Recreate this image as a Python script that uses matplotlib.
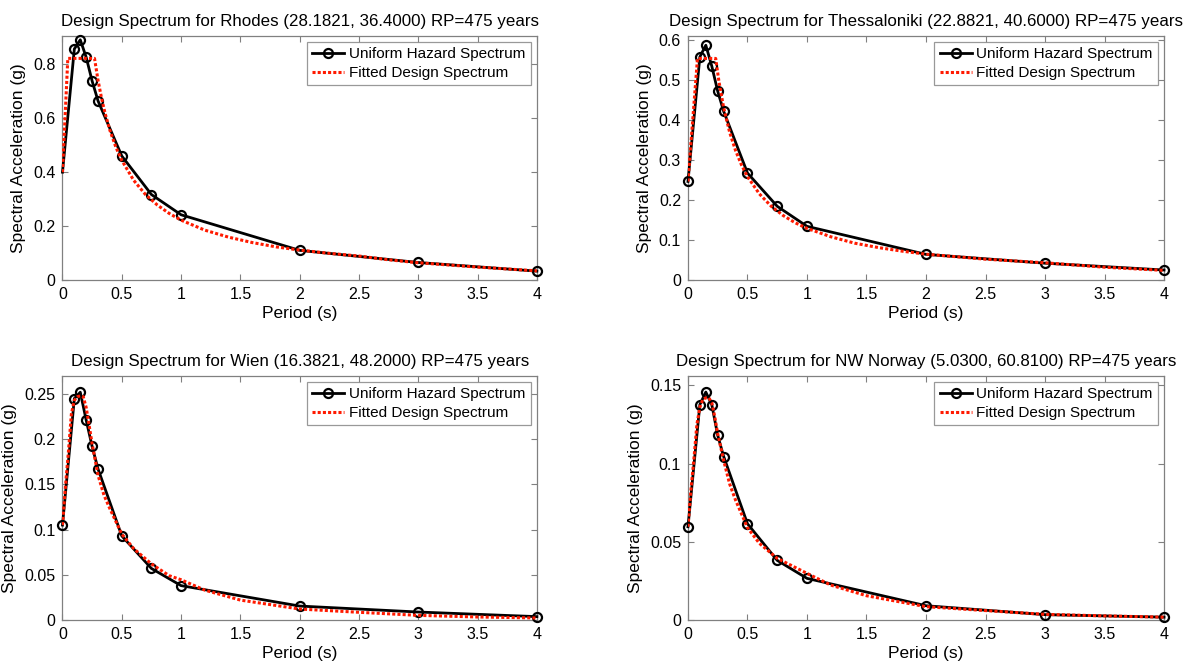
#!/usr/bin/python
# -*- coding: utf-8 -*-

import matplotlib
matplotlib.use('Agg')
from matplotlib import pyplot
from matplotlib import ticker

pyplot.rcParams['font.family'] = ['Liberation Sans', 'DejaVu Sans']

# spectral periods (s) of the uniform hazard spectrum
periods = [0, 0.1, 0.15, 0.2, 0.25, 0.3, 0.5, 0.75, 1, 2, 3, 4]

titles = [
    'Design Spectrum for Rhodes (28.1821, 36.4000) RP=475 years',
    'Design Spectrum for Thessaloniki (22.8821, 40.6000) RP=475 years',
    'Design Spectrum for Wien (16.3821, 48.2000) RP=475 years',
    'Design Spectrum for NW Norway (5.0300, 60.8100) RP=475 years',
]

# uniform hazard spectra (g)
uhs_rhodes = [0.40, 0.857, 0.891, 0.826, 0.738, 0.664, 0.460, 0.317, 0.242,
              0.110, 0.065, 0.033]
uhs_thessaloniki = [0.246, 0.557, 0.586, 0.534, 0.471, 0.421, 0.267, 0.184,
                    0.134, 0.064, 0.042, 0.025]
uhs_wien = [0.105, 0.245, 0.252, 0.221, 0.192, 0.167, 0.093, 0.057, 0.038,
            0.0154, 0.0088, 0.0037]
uhs_norway = [0.0596, 0.1377, 0.1457, 0.1377, 0.118, 0.1045, 0.0615, 0.0381,
              0.0266, 0.0091, 0.0034, 0.0018]

# fitted design spectra (period, g)
fit_rhodes_t = [0, 0.045, 0.27, 0.3, 0.33, 0.36, 0.4, 0.45, 0.5, 0.6, 0.7,
                0.8, 0.9, 1, 1.2, 1.4, 1.6, 1.8, 2, 2.25, 2.5, 2.75, 3, 3.5, 4]
fit_rhodes = [0.40, 0.822, 0.822, 0.740, 0.673, 0.617, 0.555, 0.493, 0.444,
              0.370, 0.317, 0.278, 0.247, 0.222, 0.185, 0.159, 0.139, 0.123,
              0.111, 0.099, 0.089, 0.075, 0.064, 0.048, 0.034]

fit_thessaloniki_t = [0, 0.08, 0.233, 0.26, 0.3, 0.35, 0.4, 0.45, 0.5, 0.6,
                      0.7, 0.8, 0.9, 1, 1.2, 1.4, 1.6, 1.8, 2, 2.5, 3, 3.5, 4]
fit_thessaloniki = [0.246, 0.553, 0.553, 0.496, 0.430, 0.369, 0.323, 0.287,
                    0.258, 0.215, 0.184, 0.161, 0.143, 0.129, 0.108, 0.092,
                    0.081, 0.072, 0.0645, 0.052, 0.043, 0.032, 0.024]

fit_wien_t = [0, 0.025, 0.05, 0.075, 0.1, 0.125, 0.15, 0.175, 0.2, 0.225,
              0.25, 0.3, 0.35, 0.4, 0.5, 0.6, 0.75, 0.9, 1, 1.2, 1.5, 2, 2.5,
              3, 3.5, 4]
fit_wien = [0.105, 0.148, 0.186, 0.228, 0.243, 0.247, 0.248, 0.247, 0.235,
            0.215, 0.195, 0.160, 0.138, 0.123, 0.095, 0.079, 0.062, 0.049,
            0.0445, 0.033, 0.022, 0.0121, 0.0085, 0.0051, 0.0033, 0.0022]

fit_norway_t = [0, 0.025, 0.05, 0.075, 0.1, 0.125, 0.15, 0.175, 0.2, 0.225,
                0.25, 0.3, 0.35, 0.4, 0.5, 0.6, 0.75, 1, 1.2, 1.5, 2, 2.5, 3,
                3.5, 4]
fit_norway = [0.0596, 0.083, 0.103, 0.125, 0.136, 0.141, 0.142, 0.142, 0.139,
              0.130, 0.119, 0.102, 0.087, 0.0766, 0.059, 0.049, 0.0394,
              0.0298, 0.0223, 0.0155, 0.0085, 0.006, 0.0036, 0.0026, 0.0018]

uhs = [uhs_rhodes, uhs_thessaloniki, uhs_wien, uhs_norway]
fit_t = [fit_rhodes_t, fit_thessaloniki_t, fit_wien_t, fit_norway_t]
fit = [fit_rhodes, fit_thessaloniki, fit_wien, fit_norway]
y_top = [0.905, 0.609, 0.270, 0.156]
y_step = [0.2, 0.1, 0.05, 0.05]
first_marker = [1, 0, 0, 0]

# axes boxes in figure fraction: left, bottom, width, height
boxes = [
    (0.0519, 0.5808, 0.3940, 0.3653),
    (0.5714, 0.5808, 0.3954, 0.3653),
    (0.0519, 0.0719, 0.3940, 0.3653),
    (0.5714, 0.0719, 0.3954, 0.3653),
]


def main():
  fig = pyplot.figure(figsize=(12.04, 6.68), dpi=100)
  for i in range(4):
    ax = fig.add_axes(boxes[i])
    ax.plot(periods, uhs[i], color='black', linewidth=2, marker='o',
            markersize=6.5, markerfacecolor='none', markeredgewidth=1.6,
            markevery=slice(first_marker[i], None),
            label='Uniform Hazard Spectrum', clip_on=False, zorder=3)
    ax.plot(fit_t[i], fit[i], color='#ff1a00', linewidth=2.2,
            linestyle=(0, (1, 0.7)), label='Fitted Design Spectrum',
            zorder=4)
    ax.set_xlim(0, 4)
    ax.set_ylim(0, y_top[i])
    ax.xaxis.set_major_locator(ticker.MultipleLocator(0.5))
    ax.yaxis.set_major_locator(ticker.MultipleLocator(y_step[i]))
    ax.xaxis.set_major_formatter(ticker.FormatStrFormatter('%g'))
    ax.yaxis.set_major_formatter(ticker.FormatStrFormatter('%g'))
    ax.tick_params(direction='in', top=True, right=True, length=4,
                   width=0.8, color='#808080', labelsize=11.5, pad=5)
    for spine in ax.spines.values():
      spine.set_color('#808080')
      spine.set_linewidth(0.9)
    ax.set_title(titles[i], fontsize=12.2, pad=7)
    ax.set_xlabel('Period (s)', fontsize=12.5, labelpad=3)
    ax.set_ylabel('Spectral Acceleration (g)', fontsize=12.5, labelpad=5)
    leg = ax.legend(loc='upper right', fontsize=11, fancybox=False,
                    borderaxespad=0.4, handlelength=2.1, handletextpad=0.3,
                    labelspacing=0.3, borderpad=0.35)
    leg.get_frame().set_edgecolor('#808080')
    leg.get_frame().set_linewidth(0.9)
  pyplot.savefig('out.png', dpi=100)


if __name__ == '__main__':
  main()
